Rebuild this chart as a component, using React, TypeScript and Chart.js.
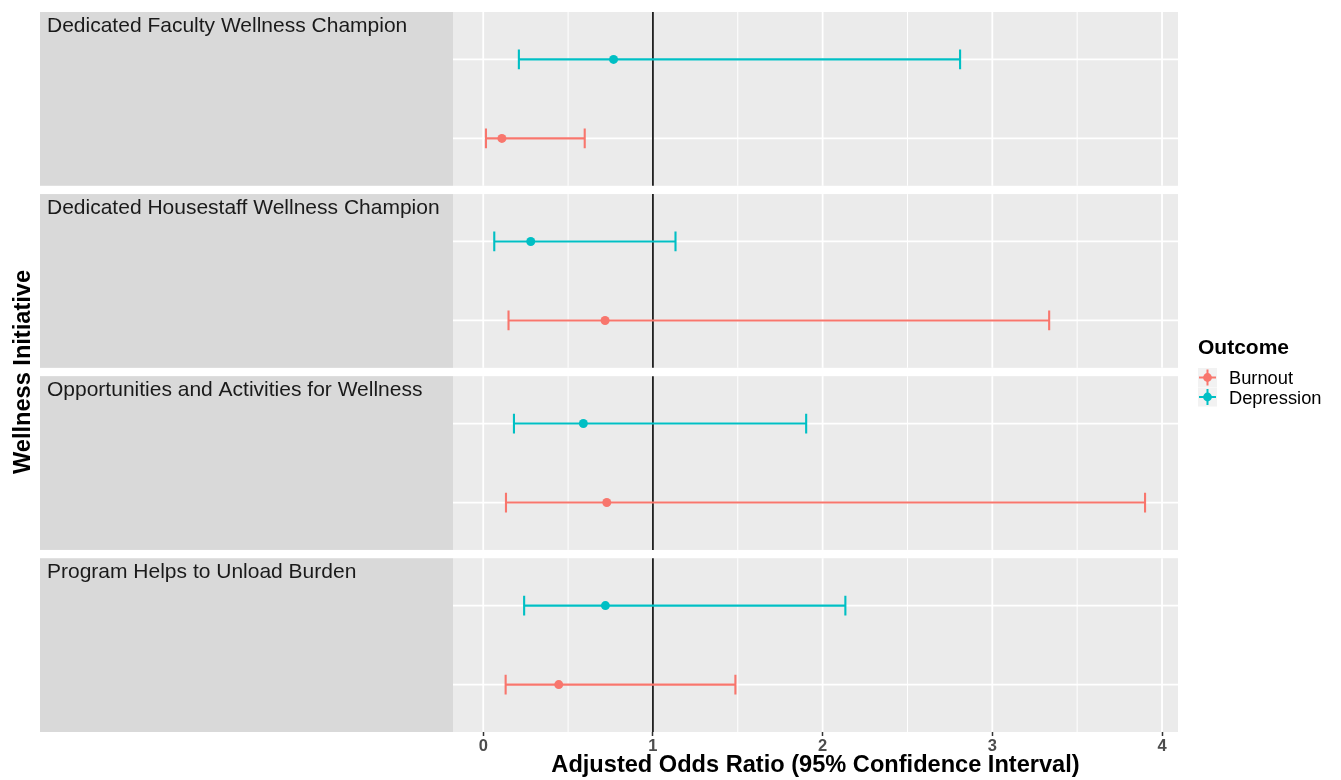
import React, { useEffect, useRef } from "react";
import { Chart, registerables } from "chart.js";

Chart.register(...registerables);

const initiatives = [
  "Dedicated Faculty Wellness Champion",
  "Dedicated Housestaff Wellness Champion",
  "Opportunities and Activities for Wellness",
  "Program Helps to Unload Burden",
];
const outcomes = ["Burnout", "Depression"];
const burnoutOR = [0.11, 0.718, 0.728, 0.445];
const burnoutLow = [0.016, 0.149, 0.134, 0.132];
const burnoutHigh = [0.598, 3.335, 3.9, 1.486];
const depressionOR = [0.768, 0.28, 0.59, 0.72];
const depressionLow = [0.21, 0.065, 0.181, 0.241];
const depressionHigh = [2.81, 1.133, 1.903, 2.134];
const xTicks = [0, 1, 2, 3, 4];
const xMinorTicks = [0.5, 1.5, 2.5, 3.5];

const COLORS = { Burnout: "#F8766D", Depression: "#00BFC4" };
const FONT = "'Liberation Sans', Arial, Helvetica, sans-serif";

// facet layout in y units (reversed axis): each panel is 2 discrete levels with 0.6 expansion
const PANEL_H = 2.2;
const PANEL_GAP = 0.105;
const panelTop = (i: number) => i * (PANEL_H + PANEL_GAP);
const yDep = (i: number) => panelTop(i) + 0.6;
const yBurn = (i: number) => panelTop(i) + 1.6;
const Y_MAX = initiatives.length * PANEL_H + (initiatives.length - 1) * PANEL_GAP;

const xLo = Math.min(...burnoutLow, ...depressionLow);
const xHi = Math.max(...burnoutHigh, ...depressionHigh);
const X_MIN = xLo - 0.05 * (xHi - xLo);
const X_MAX = xHi + 0.05 * (xHi - xLo);

const facetPlugin = {
  id: "facetPlugin",
  beforeDatasetsDraw(chart: any) {
    const { ctx, chartArea } = chart;
    const xs = chart.scales.x;
    const ys = chart.scales.y;
    ctx.save();
    initiatives.forEach((name, i) => {
      const t = ys.getPixelForValue(panelTop(i));
      const b = ys.getPixelForValue(panelTop(i) + PANEL_H);
      // strip
      ctx.fillStyle = "#D9D9D9";
      ctx.fillRect(40, t, chartArea.left - 40, b - t);
      ctx.fillStyle = "#1A1A1A";
      ctx.font = `21px ${FONT}`;
      ctx.textAlign = "left";
      ctx.textBaseline = "alphabetic";
      ctx.fillText(name, 47, t + 20);
      // panel bg
      ctx.fillStyle = "#EBEBEB";
      ctx.fillRect(chartArea.left, t, chartArea.right - chartArea.left, b - t);
      // minor grid
      ctx.strokeStyle = "#FFFFFF";
      ctx.lineWidth = 1;
      xMinorTicks.forEach((v) => {
        const px = xs.getPixelForValue(v);
        ctx.beginPath();
        ctx.moveTo(px, t);
        ctx.lineTo(px, b);
        ctx.stroke();
      });
      // major grid
      ctx.lineWidth = 1.8;
      xTicks.forEach((v) => {
        const px = xs.getPixelForValue(v);
        ctx.beginPath();
        ctx.moveTo(px, t);
        ctx.lineTo(px, b);
        ctx.stroke();
      });
      [yDep(i), yBurn(i)].forEach((v) => {
        const py = ys.getPixelForValue(v);
        ctx.beginPath();
        ctx.moveTo(chartArea.left, py);
        ctx.lineTo(chartArea.right, py);
        ctx.stroke();
      });
      // reference line at OR = 1
      const p1 = xs.getPixelForValue(1);
      ctx.strokeStyle = "#000000";
      ctx.lineWidth = 1.6;
      ctx.beginPath();
      ctx.moveTo(p1, t);
      ctx.lineTo(p1, b);
      ctx.stroke();
      // error bars
      const bars = [
        { c: COLORS.Burnout, y: yBurn(i), lo: burnoutLow[i], hi: burnoutHigh[i] },
        { c: COLORS.Depression, y: yDep(i), lo: depressionLow[i], hi: depressionHigh[i] },
      ];
      bars.forEach((e) => {
        const py = ys.getPixelForValue(e.y);
        const pt = ys.getPixelForValue(e.y - 0.125);
        const pb = ys.getPixelForValue(e.y + 0.125);
        const x0 = xs.getPixelForValue(e.lo);
        const x1 = xs.getPixelForValue(e.hi);
        ctx.strokeStyle = e.c;
        ctx.lineWidth = 2.1;
        ctx.beginPath();
        ctx.moveTo(x0, py);
        ctx.lineTo(x1, py);
        ctx.moveTo(x0, pt);
        ctx.lineTo(x0, pb);
        ctx.moveTo(x1, pt);
        ctx.lineTo(x1, pb);
        ctx.stroke();
      });
    });
    ctx.restore();
  },
  afterDraw(chart: any) {
    const { ctx } = chart;
    ctx.save();
    // legend
    ctx.fillStyle = "#000000";
    ctx.font = `bold 21px ${FONT}`;
    ctx.textAlign = "left";
    ctx.textBaseline = "alphabetic";
    ctx.fillText("Outcome", 1198, 354);
    outcomes.forEach((o, k) => {
      const top = 368 + k * 19.5;
      const c = (COLORS as any)[o];
      ctx.fillStyle = "#F2F2F2";
      ctx.fillRect(1198, top, 19, 19);
      const cx = 1207.5;
      const cy = top + 9.5;
      ctx.strokeStyle = c;
      ctx.lineWidth = 2;
      ctx.beginPath();
      ctx.moveTo(1199, cy);
      ctx.lineTo(1216, cy);
      ctx.moveTo(cx, top + 1.5);
      ctx.lineTo(cx, top + 17.5);
      ctx.stroke();
      ctx.fillStyle = c;
      ctx.beginPath();
      ctx.arc(cx, cy, 4.4, 0, Math.PI * 2);
      ctx.fill();
      ctx.fillStyle = "#000000";
      ctx.font = `18.3px ${FONT}`;
      ctx.fillText(o, 1229, top + 16.3);
    });
    ctx.restore();
  },
};

export default function App() {
  const ref = useRef<HTMLCanvasElement | null>(null);
  useEffect(() => {
    if (!ref.current) return;
    const chart = new Chart(ref.current, {
      type: "scatter",
      data: {
        datasets: [
          {
            label: "Burnout",
            data: burnoutOR.map((v, i) => ({ x: v, y: yBurn(i) })),
            backgroundColor: COLORS.Burnout,
            pointRadius: 4.5,
            pointBorderWidth: 0,
          },
          {
            label: "Depression",
            data: depressionOR.map((v, i) => ({ x: v, y: yDep(i) })),
            backgroundColor: COLORS.Depression,
            pointRadius: 4.5,
            pointBorderWidth: 0,
          },
        ],
      },
      options: {
        responsive: false,
        animation: false,
        layout: { padding: { top: 12, right: 163, left: 0, bottom: 0 } },
        plugins: { legend: { display: false }, tooltip: { enabled: false } },
        scales: {
          x: {
            type: "linear",
            min: X_MIN,
            max: X_MAX,
            afterBuildTicks: (s: any) => {
              s.ticks = xTicks.map((v) => ({ value: v }));
            },
            afterFit: (s: any) => {
              s.height = 48;
            },
            border: { display: false },
            grid: {
              display: true,
              drawOnChartArea: false,
              drawTicks: true,
              tickLength: 4,
              tickWidth: 1.5,
              tickColor: "#333333",
            },
            ticks: {
              color: "#4D4D4D",
              font: { family: FONT, size: 16.5, weight: "bold", lineHeight: 1 },
              padding: 2,
              maxRotation: 0,
            },
            title: {
              display: true,
              text: "Adjusted Odds Ratio (95% Confidence Interval)",
              color: "#000000",
              font: { family: FONT, size: 23.6, weight: "bold" },
              padding: { top: 0, bottom: 0 },
            },
          },
          y: {
            type: "linear",
            min: 0,
            max: Y_MAX,
            reverse: true,
            afterFit: (s: any) => {
              s.width = 453;
            },
            border: { display: false },
            grid: { display: false },
            ticks: { display: false },
            title: {
              display: true,
              text: "Wellness Initiative",
              color: "#000000",
              font: { family: FONT, size: 23.6, weight: "bold" },
              padding: { top: 9, bottom: 0 },
            },
          },
        },
      } as any,
      plugins: [facetPlugin],
    });
    return () => chart.destroy();
  }, []);
  return (
    <div style={{ position: "fixed", left: 0, top: 0, background: "#FFFFFF" }}>
      <canvas ref={ref} width={1341} height={780} style={{ display: "block" }} />
    </div>
  );
}
